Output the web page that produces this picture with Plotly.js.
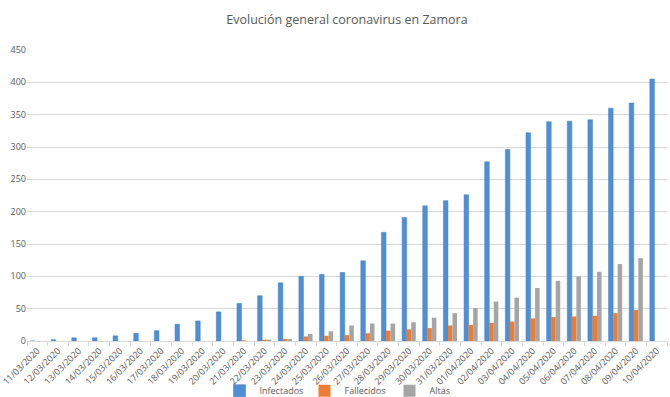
<!DOCTYPE html>
<html>
<head>
<meta charset="utf-8">
<script src="https://cdn.plot.ly/plotly-3.0.1.min.js"></script>
<style>html,body{margin:0;padding:0;background:#fff}#chart{width:670px;height:397px}</style>
</head>
<body>
<div id="chart"></div>
<script>
const fechas = ["11/03/2020","12/03/2020","13/03/2020","14/03/2020","15/03/2020","16/03/2020","17/03/2020","18/03/2020","19/03/2020","20/03/2020","21/03/2020","22/03/2020","23/03/2020","24/03/2020","25/03/2020","26/03/2020","27/03/2020","28/03/2020","29/03/2020","30/03/2020","31/03/2020","01/04/2020","02/04/2020","03/04/2020","04/04/2020","05/04/2020","06/04/2020","07/04/2020","08/04/2020","09/04/2020","10/04/2020"];
const infectados = [0,2,5,5,8,12,16,26,31,45,58,70,90,100,103,106,124,168,191,209,217,226,277,296,322,339,340,342,360,368,405];
const fallecidos = [0,0,0,0,0,0,0,0,0,0,1,2,3,7,8,9,12,16,18,20,24,25,28,30,35,37,38,39,43,48,null];
const altas = [0,0,0,0,0,0,0,0,0,0,0,2,3,11,15,24,27,27,29,36,43,51,61,67,82,93,100,107,119,128,null];

const font = "Open Sans, Liberation Sans, sans-serif";
const traces = [
  {type:"bar", name:"Infectados", x:fechas, y:infectados, marker:{color:"#4F8FD6", line:{color:"#3F7CC0", width:0.5}}},
  {type:"bar", name:"Fallecidos", x:fechas, y:fallecidos, marker:{color:"#ED7D31"}},
  {type:"bar", name:"Altas", x:fechas, y:altas, marker:{color:"#A5A5A5"}}
];
const layout = {
  width:670, height:397,
  margin:{l:27, r:3, t:50, b:56},
  paper_bgcolor:"#fff", plot_bgcolor:"#fff",
  title:{text:"Evolución general coronavirus en Zamora", font:{family:font, size:12.5, color:"#595959"}, x:0.5, xanchor:"center", xref:"paper", y:0.95, yanchor:"middle"},
  barmode:"group", bargap:0.34, bargroupgap:0,
  showlegend:true,
  legend:{orientation:"h", x:0.5, xanchor:"center", xref:"paper", yref:"container", y:0.016, yanchor:"middle", bgcolor:"rgba(0,0,0,0)", font:{family:font, size:9, color:"#595959"}, itemwidth:30, entrywidth:40, traceorder:"normal", tracegroupgap:0},
  xaxis:{type:"category", tickangle:-45, tickfont:{family:font, size:9, color:"#595959"}, showline:true, linecolor:"#D9D9D9", ticks:"outside", tickson:"boundaries", ticklen:4, tickcolor:"#D9D9D9", showgrid:false, automargin:false},
  yaxis:{range:[0,450], dtick:50, tickfont:{family:font, size:9, color:"#595959"}, gridcolor:"#D9D9D9", gridwidth:1, zeroline:false, showline:false, ticks:"", automargin:false}
};
Plotly.newPlot("chart", traces, layout, {displayModeBar:false, staticPlot:true});
</script>
</body>
</html>
